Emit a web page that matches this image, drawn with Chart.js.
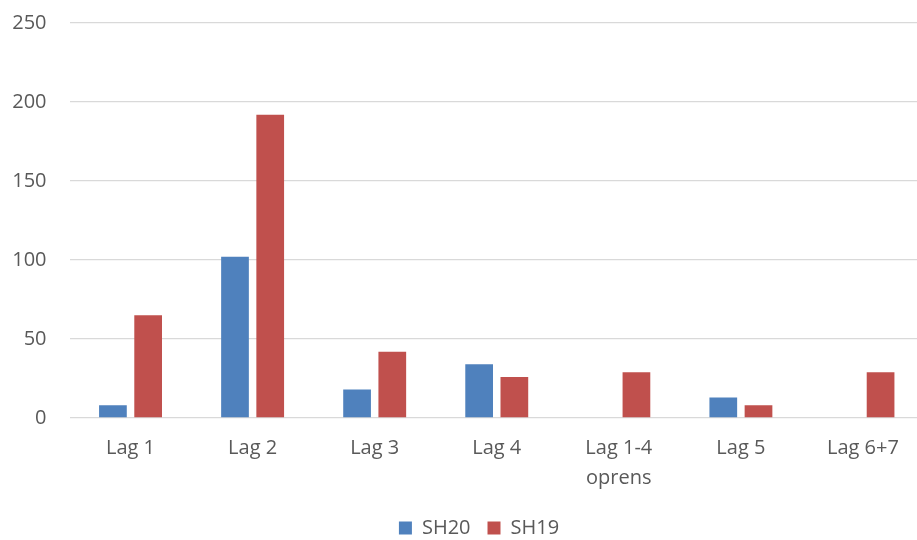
<!DOCTYPE html>
<html>
<head>
<meta charset="utf-8">
<script src="https://cdn.jsdelivr.net/npm/chart.js@4/dist/chart.umd.min.js"></script>
<style>
  html, body { margin: 0; padding: 0; background: #fff; overflow: hidden; }
  #wrap { width: 917px; height: 540px; overflow: hidden; }
</style>
</head>
<body>
<div id="wrap"><canvas id="c" width="924" height="548"></canvas></div>
<script>
const categories = ["Lag 1", "Lag 2", "Lag 3", "Lag 4", ["Lag 1-4", "oprens"], "Lag 5", "Lag 6+7"];
const sh20 = [8, 102, 18, 34, 0, 13, 0];
const sh19 = [65, 192, 42, 26, 29, 8, 29];
const yTicks = [0, 50, 100, 150, 200, 250];

const textColor = '#595959';
const fontFamily = '"Open Sans", sans-serif';

const legendShift = {
  id: 'legendShift',
  afterLayout(chart) {
    const l = chart.legend;
    if (l) { l.left += 17; l.right += 17; }
  }
};

new Chart(document.getElementById('c'), {
  type: 'bar',
  data: {
    labels: categories,
    datasets: [
      { label: 'SH20', data: sh20, backgroundColor: '#4F81BD', categoryPercentage: 0.577, barPercentage: 0.787 },
      { label: 'SH19', data: sh19, backgroundColor: '#C0504D', categoryPercentage: 0.577, barPercentage: 0.787 }
    ]
  },
  plugins: [legendShift],
  options: {
    responsive: false,
    animation: false,
    layout: { padding: { top: 23, right: 0, bottom: 0, left: 0 } },
    plugins: {
      tooltip: { enabled: false },
      legend: {
        position: 'bottom',
        labels: {
          color: textColor,
          font: { family: fontFamily, size: 20 },
          boxWidth: 13,
          boxHeight: 13,
          padding: 17
        }
      }
    },
    scales: {
      x: {
        afterFit: (s) => { s.height = s.height - 7; },
        grid: { display: false, drawTicks: false },
        border: { display: false },
        ticks: {
          color: textColor,
          font: { family: fontFamily, size: 20, lineHeight: 1.5 },
          padding: 15,
          maxRotation: 0,
          autoSkip: false
        }
      },
      y: {
        min: 0,
        max: 250,
        afterFit: (s) => { s.width = 69.5; },
        afterBuildTicks: (s) => { s.ticks = yTicks.map(v => ({ value: v })); },
        grid: { color: '#d9d9d9', lineWidth: 1.3, drawTicks: true, tickLength: 23, tickColor: 'rgba(0,0,0,0)' },
        border: { display: false },
        ticks: {
          color: textColor,
          font: { family: fontFamily, size: 20 },
          padding: 0
        }
      }
    }
  }
});
</script>
</body>
</html>
